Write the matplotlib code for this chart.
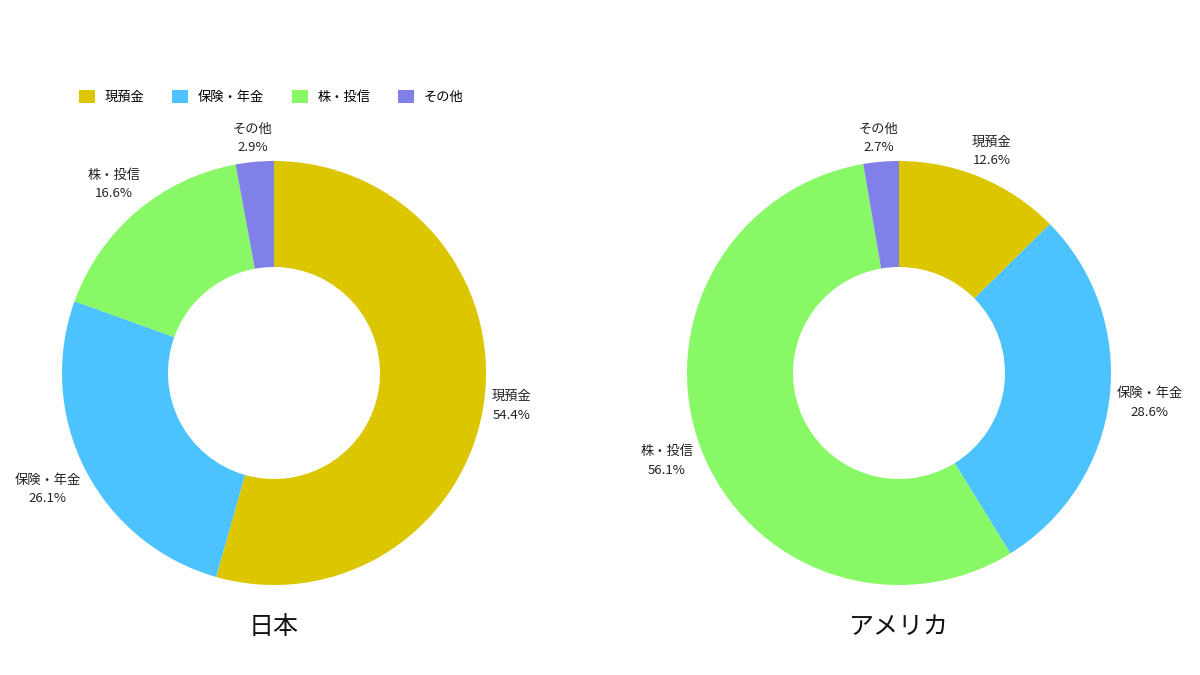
import numpy as np
import matplotlib
matplotlib.use("Agg")
import matplotlib.pyplot as plt
from matplotlib.patches import Patch

plt.rcParams['font.family'] = ['Noto Sans CJK JP', 'DejaVu Sans']

# data
categories = ["現預金", "保険・年金", "株・投信", "その他"]
japan_values = [54.4, 26.1, 16.6, 2.9]
usa_values = [12.6, 28.6, 56.1, 2.7]
country_names = ["日本", "アメリカ"]
colors = ["#dcc600", "#4cc3ff", "#88f866", "#8080e8"]

W, H = 1200, 675
R = 212  # pie radius in px
fig = plt.figure(figsize=(12, 6.75), dpi=100)
renderer = fig.canvas.get_renderer()


def draw_donut(cx, cy, values, title):
    half = 280
    ax = fig.add_axes([(cx - half) / W, (H - cy - half) / H, 2 * half / W, 2 * half / H])
    lim = half / R
    ax.pie(values, colors=colors, startangle=90, counterclock=False, radius=1,
           wedgeprops=dict(width=0.5, linewidth=0))
    ax.set_xlim(-lim, lim)
    ax.set_ylim(-lim, lim)
    ax.set_aspect('equal')
    ax.axis('off')

    # labels outside the ring, pushed out by their own box size
    total = sum(values)
    start = 90.0
    for cat, v in zip(categories, values):
        span = 360.0 * v / total
        mid = np.deg2rad(start - span / 2)
        start -= span
        t = ax.text(0, 0, f"{cat}\n{v}%", ha='center', va='center',
                    fontsize=9.5, color='#222222', linespacing=1.55)
        bb = t.get_window_extent(renderer)
        hw, hh = bb.width / 2, bb.height / 2
        d = (218 + hw * abs(np.cos(mid)) + hh * abs(np.sin(mid))) / R
        t.set_position((d * np.cos(mid), d * np.sin(mid)))

    ax.text(0, -(627 - cy) / R, title, ha='center', va='center',
            fontsize=18, color='#111111')


draw_donut(274, 373, japan_values, country_names[0])
draw_donut(899, 373, usa_values, country_names[1])

handles = [Patch(facecolor=c, edgecolor='none') for c in colors]
fig.legend(handles, categories, loc='center left',
           bbox_to_anchor=(79 / W, 1 - 97 / H), ncol=4, frameon=False,
           fontsize=9.5, handlelength=1.2, handleheight=1.2,
           handletextpad=0.75, columnspacing=2.1, borderpad=0, borderaxespad=0)

fig.savefig("out.png", dpi=100, facecolor='white')
